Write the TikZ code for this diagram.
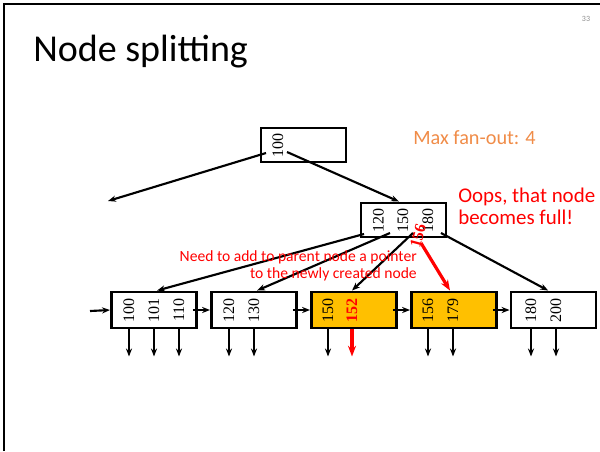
\documentclass[tikz,border=0pt]{standalone}
\usepackage{fontspec}
\setmainfont{Liberation Serif}
\newfontfamily\slidefont{Carlito}
\usetikzlibrary{arrows.meta,calc}

\definecolor{keyfill}{HTML}{FFC000}
\definecolor{noteorange}{HTML}{F08C48}
\definecolor{alertred}{HTML}{FF0000}
\definecolor{pagegray}{HTML}{8C8C8C}

\tikzset{
  treenode/.style={draw=black, line width=2.2pt, rectangle, inner sep=0pt,
                   minimum width=63.75pt},
  rootbox/.style={treenode, minimum height=25.5pt},
  leafbox/.style={treenode, minimum height=27pt},
  hotleaf/.style={leafbox, fill=keyfill},
  keytext/.style={rotate=90, inner sep=0pt, font=\fontsize{12}{13}\selectfont},
  newkey/.style={keytext, text=alertred, font=\fontsize{12}{13}\selectfont\bfseries},
  ptr/.style={line width=1.6pt, -{Stealth[length=6pt,width=4.6pt]}},
  hotptr/.style={line width=2.4pt, draw=alertred, -{Stealth[length=8pt,width=6pt]}},
}

\begin{document}
\begin{tikzpicture}[x=0.75pt, y=-0.75pt]
  \useasboundingbox (0,0) rectangle (600,451);

  % slide frame (top and left edges only)
  \draw[line width=1.8pt] (4,451) -- (4,4) -- (600,4);
  \node[text=pagegray, font=\slidefont\fontsize{6}{7}\selectfont] (pageno) at (586,19) {33};

  % title
  \node[anchor=base west, inner sep=0pt, font=\slidefont\fontsize{28.5}{30}\selectfont]
    (title) at (33,61) {Node splitting};

  % root node
  \node[rootbox] (root) at (303.5,145) {};
  \node[keytext] (r100) at (278,145) {100};

  % inner node that just became full
  \node[rootbox] (inner) at (403.5,220) {};
  \node[keytext] (i120) at (378.5,220) {120};
  \node[keytext] (i150) at (403,220) {150};
  \node[keytext] (i180) at (428,220) {180};
  \node[newkey, rotate=-15] (i156) at (418,236) {156};

  % leaf level
  \node[leafbox] (leafA) at (154,310) {};
  \node[leafbox] (leafB) at (254,310) {};
  \node[hotleaf] (leafC) at (354,310) {};
  \node[hotleaf] (leafD) at (454,310) {};
  \node[leafbox] (leafE) at (553.5,310) {};

  \node[keytext] (a100) at (129,310) {100};
  \node[keytext] (a101) at (154,310) {101};
  \node[keytext] (a110) at (179,310) {110};
  \node[keytext] (b120) at (229,310) {120};
  \node[keytext] (b130) at (254,310) {130};
  \node[keytext] (c150) at (328,310) {150};
  \node[newkey]  (c152) at (352,310) {152};
  \node[keytext] (d156) at (428,310) {156};
  \node[keytext] (d179) at (453,310) {179};
  \node[keytext] (e180) at (531,310) {180};
  \node[keytext] (e200) at (556,310) {200};

  % pointers leaving the root
  \coordinate (rp0) at (266,153);
  \coordinate (rp1) at (287,152);
  \coordinate (leftsub) at (108,201);
  \draw[ptr] (rp0) -- (leftsub);
  \draw[ptr] (rp1) -- ([xshift=-3.4pt]inner.north);

  % pointers leaving the inner node
  \coordinate (ip0) at (364,234);
  \coordinate (ip1) at (390,233);
  \coordinate (ip2) at (413,233);
  \coordinate (ip3) at (441,233);
  \coordinate (ipnew) at (421,243);
  \draw[ptr] (ip0) -- ([xshift=2.3pt]leafA.north);
  \draw[ptr] (ip1) -- ([xshift=2.3pt]leafB.north);
  \draw[ptr] (ip2) -- ([xshift=-1.5pt]leafC.north);
  \draw[ptr] (ip3) -- ([xshift=-4pt]leafE.north);
  \draw[hotptr] (ipnew) -- ([xshift=-3pt]leafD.north);

  % sibling chain along the leaves
  \coordinate (chainin) at (90,311);
  \draw[ptr] (chainin) -- (leafA.west);
  \draw[ptr] ([xshift=-3.75pt]leafA.east) -- (leafB.west);
  \draw[ptr] ([xshift=-3.75pt]leafB.east) -- (leafC.west);
  \draw[ptr] ([xshift=-3.75pt]leafC.east) -- (leafD.west);
  \draw[ptr] ([xshift=-3.75pt]leafD.east) -- (leafE.west);

  % record pointers below the leaves
  \foreach \k/\l in {a100/leafA, a101/leafA, a110/leafA, b120/leafB, b130/leafB,
                     c150/leafC, d156/leafD, d179/leafD, e180/leafE, e200/leafE} {
    \draw[ptr] (\k |- \l.south) -- ++(0,27);
  }
  \draw[hotptr] (c152 |- leafC.south) -- ++(0,27);

  % annotations
  \node[anchor=base west, inner sep=0pt, text=noteorange,
        font=\slidefont\fontsize{15.2}{16}\selectfont] (fanout) at (413,144) {Max fan-out: 4};
  \node[anchor=north west, inner sep=0pt, align=left, text=alertred,
        font=\slidefont\fontsize{15.7}{16.5}\selectfont] (oops) at (458,188)
        {Oops, that node\\becomes full!};
  \node[anchor=east, inner sep=0pt, align=right, text=alertred,
        font=\slidefont\fontsize{11.7}{12.5}\selectfont] (need) at (417,266)
        {Need to add to parent node a pointer\\to the newly created node};
\end{tikzpicture}
\end{document}
